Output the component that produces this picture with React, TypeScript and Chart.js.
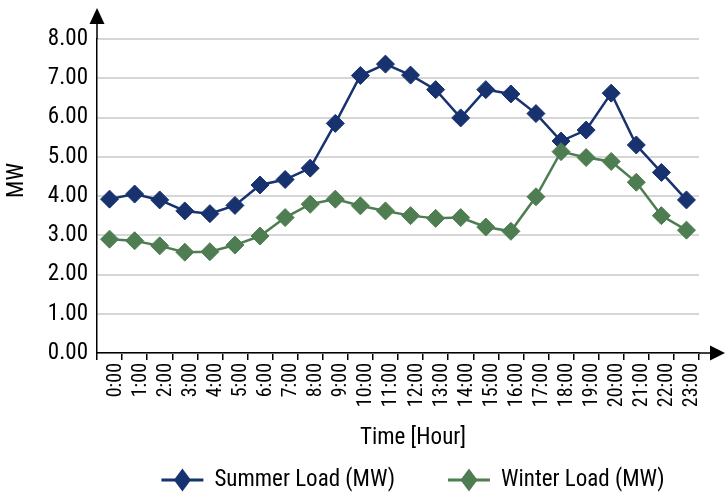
import React, { useEffect, useRef } from 'react';
import { Chart, registerables } from 'chart.js';

Chart.register(...registerables);

const hours = ['0:00', '1:00', '2:00', '3:00', '4:00', '5:00', '6:00', '7:00', '8:00', '9:00', '10:00', '11:00', '12:00', '13:00', '14:00', '15:00', '16:00', '17:00', '18:00', '19:00', '20:00', '21:00', '22:00', '23:00'];
const summerLoad = [3.92, 4.05, 3.9, 3.62, 3.55, 3.76, 4.28, 4.42, 4.71, 5.85, 7.07, 7.36, 7.08, 6.71, 5.99, 6.71, 6.6, 6.1, 5.4, 5.68, 6.62, 5.3, 4.6, 3.9];
const winterLoad = [2.9, 2.86, 2.73, 2.57, 2.58, 2.75, 2.98, 3.45, 3.79, 3.92, 3.75, 3.62, 3.5, 3.43, 3.45, 3.21, 3.1, 3.98, 5.13, 4.98, 4.88, 4.35, 3.5, 3.13];
const seriesNames = ['Summer Load (MW)', 'Winter Load (MW)'];
const seriesColors = ['#17326f', '#4e7d52'];
const yMin = 0;
const yMax = 8;
const yStep = 1;
const xTitle = 'Time [Hour]';
const yTitle = 'MW';

const FAMILY = "'Roboto Condensed', Roboto, sans-serif";
const INK = '#000000';

const decorPlugin = {
  id: 'decor',
  afterDraw(chart: any) {
    const { ctx, chartArea } = chart;
    const { left, right, top, bottom } = chartArea;
    ctx.save();
    ctx.strokeStyle = INK;
    ctx.fillStyle = INK;
    ctx.lineWidth = 1.5;
    // y axis extension + arrow
    ctx.beginPath();
    ctx.moveTo(left, top);
    ctx.lineTo(left, top - 16);
    ctx.stroke();
    ctx.beginPath();
    ctx.moveTo(left, top - 31);
    ctx.lineTo(left - 7.5, top - 15);
    ctx.lineTo(left + 7.5, top - 15);
    ctx.closePath();
    ctx.fill();
    // x axis extension + arrow
    ctx.beginPath();
    ctx.moveTo(right, bottom);
    ctx.lineTo(right + 12, bottom);
    ctx.stroke();
    ctx.beginPath();
    ctx.moveTo(right + 26, bottom);
    ctx.lineTo(right + 11, bottom - 7.5);
    ctx.lineTo(right + 11, bottom + 7.5);
    ctx.closePath();
    ctx.fill();

    // y title
    const yc = (top - 31 + bottom) / 2;
    ctx.font = `23px ${FAMILY}`;
    ctx.textAlign = 'center';
    ctx.textBaseline = 'middle';
    ctx.save();
    ctx.translate(left - 80, yc);
    ctx.rotate(-Math.PI / 2);
    ctx.fillText(yTitle, 0, 0);
    ctx.restore();

    // x title
    const xc = (left + right + 26) / 2 + 2;
    ctx.fillText(xTitle, xc, bottom + 85);

    // legend
    const ly = bottom + 127;
    const lineLen = 42;
    const gapText = 11;
    const gapItems = 53;
    const widths = chart.data.datasets.map((d: any) => ctx.measureText(d.label).width);
    const total = widths.reduce((a: number, w: number) => a + lineLen + gapText + w, 0) + gapItems * (widths.length - 1);
    let x = xc - total / 2;
    ctx.textAlign = 'left';
    chart.data.datasets.forEach((d: any, i: number) => {
      ctx.strokeStyle = d.borderColor;
      ctx.fillStyle = d.borderColor;
      ctx.lineWidth = 3;
      ctx.beginPath();
      ctx.moveTo(x, ly);
      ctx.lineTo(x + lineLen, ly);
      ctx.stroke();
      const cx = x + lineLen / 2;
      ctx.beginPath();
      ctx.moveTo(cx, ly - 11.5);
      ctx.lineTo(cx + 8.5, ly);
      ctx.lineTo(cx, ly + 11.5);
      ctx.lineTo(cx - 8.5, ly);
      ctx.closePath();
      ctx.fill();
      ctx.fillStyle = INK;
      ctx.fillText(d.label, x + lineLen + gapText, ly);
      x += lineLen + gapText + widths[i] + gapItems;
    });
    ctx.restore();
  },
};

export default function App() {
  const canvasRef = useRef<HTMLCanvasElement | null>(null);

  useEffect(() => {
    document.body.style.margin = '0';
    const canvas = canvasRef.current;
    if (!canvas) return;
    const chart = new Chart(canvas, {
      type: 'line',
      data: {
        labels: hours,
        datasets: [
          {
            label: seriesNames[0],
            data: summerLoad,
            borderColor: seriesColors[0],
            backgroundColor: seriesColors[0],
            borderWidth: 2.5,
            pointStyle: 'rectRot',
            pointRadius: 9,
            pointBorderWidth: 1,
            pointBackgroundColor: seriesColors[0],
            pointBorderColor: seriesColors[0],
            tension: 0,
            order: 1,
          },
          {
            label: seriesNames[1],
            data: winterLoad,
            borderColor: seriesColors[1],
            backgroundColor: seriesColors[1],
            borderWidth: 2.5,
            pointStyle: 'rectRot',
            pointRadius: 9,
            pointBorderWidth: 1,
            pointBackgroundColor: seriesColors[1],
            pointBorderColor: seriesColors[1],
            tension: 0,
            order: 0,
          },
        ],
      },
      options: {
        responsive: false,
        animation: false,
        layout: { padding: { top: 39, right: 26, left: 0, bottom: 0 } },
        plugins: {
          legend: { display: false },
          tooltip: { enabled: false },
          title: { display: false },
        },
        scales: {
          x: {
            type: 'category',
            offset: true,
            grid: {
              display: true,
              drawOnChartArea: false,
              drawTicks: true,
              tickLength: 7,
              offset: true,
              color: INK,
              lineWidth: 1.5,
            },
            border: { display: true, color: INK, width: 1.5 },
            ticks: {
              autoSkip: false,
              maxRotation: 90,
              minRotation: 90,
              labelOffset: 6,
              padding: 3,
              color: INK,
              font: { family: FAMILY, size: 20 },
            },
            afterFit: (s: any) => {
              s.height = 141;
            },
          },
          y: {
            min: yMin,
            max: yMax,
            ticks: {
              stepSize: yStep,
              padding: 9,
              color: INK,
              font: { family: FAMILY, size: 23 },
              callback: (v: any) => Number(v).toFixed(2),
            },
            grid: { color: '#d6d6d6', lineWidth: 2, drawTicks: false },
            border: { display: true, color: INK, width: 1.5 },
            afterFit: (s: any) => {
              s.width = 97;
            },
          },
        },
      },
      plugins: [decorPlugin],
    });
    return () => chart.destroy();
  }, []);

  return (
    <div style={{ position: 'fixed', left: 0, top: 0, width: 725, height: 494, background: '#fff' }}>
      <canvas ref={canvasRef} width={725} height={494} style={{ width: 725, height: 494, display: 'block' }} />
    </div>
  );
}
